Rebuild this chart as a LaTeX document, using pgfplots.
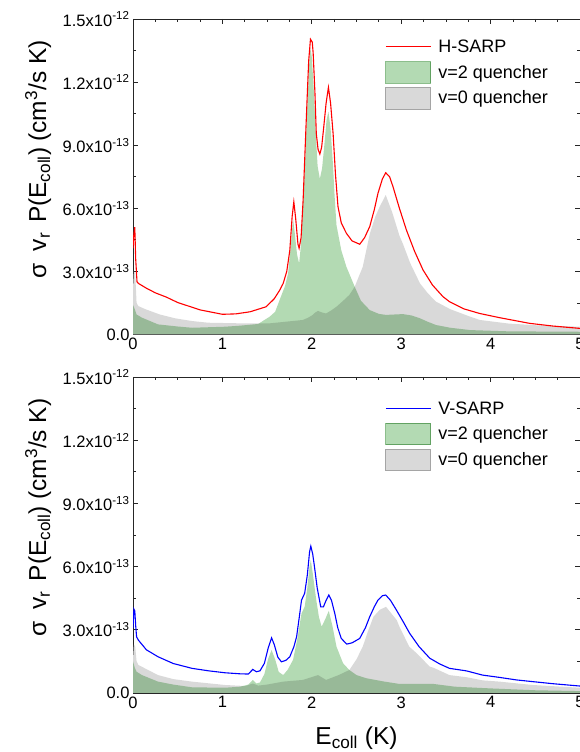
\documentclass[border=0pt]{standalone}
\usepackage{fontspec}
\setmainfont{Liberation Sans}
\usepackage{pgfplots}
\pgfplotsset{compat=1.18}

\definecolor{vtwo}{RGB}{179,218,179}
\definecolor{vtwoedge}{RGB}{140,190,140}
\definecolor{vzero}{RGB}{217,217,217}
\definecolor{vzeroedge}{RGB}{165,165,165}

\pgfplotsset{
  panel/.style={
    scale only axis, width=447pt,
    xmin=0, xmax=5, ymin=0, ymax=15,
    xtick={0,1,2,3,4,5}, minor x tick num=3,
    ytick={0,3,6,9,12,15}, minor y tick num=1,
    yticklabels={0.0, 3.0x10\textsuperscript{-13}, 6.0x10\textsuperscript{-13}, 9.0x10\textsuperscript{-13}, 1.2x10\textsuperscript{-12}, 1.5x10\textsuperscript{-12}},
    tick align=inside, major tick length=5pt, minor tick length=3pt,
    axis line style={line width=0.9pt, black!85},
    every tick/.style={black!85, line width=0.8pt},
    tick label style={font=\fontsize{16.5}{18}\selectfont},
    /pgf/number format/assume math mode=true,
    ylabel={σ\hspace{0.5em}v\textsubscript{r}\hspace{0.4em}P(E\textsubscript{coll})\hspace{0.25em}(cm\textsuperscript{3}/s K)},
    ylabel style={font=\fontsize{24.5}{26}\selectfont, at={(axis description cs:-0.212,0.555)}, anchor=center},
    legend cell align=left,
    reverse legend,
    legend style={draw=none, fill=none, anchor=north west,
      font=\fontsize{18}{20}\selectfont, row sep=3.4pt, inner sep=0pt,
      nodes={inner sep=0pt},
      /tikz/every odd column/.append style={column sep=7pt}},
  },
  vzerostyle/.style={fill=vzero, draw=none,
    legend image code/.code={\draw[fill=vzero, draw=vzeroedge, line width=0.8pt] (0pt,-10.8pt) rectangle (45pt,10.8pt);}},
  vtwostyle/.style={fill=vtwo, draw=none, blend mode=multiply,
    legend image code/.code={\draw[fill=vtwo, draw=vtwoedge, line width=0.8pt] (0pt,-10.8pt) rectangle (45pt,10.8pt);}},
  linestyle/.style={#1, line width=1.1pt,
    legend image code/.code={\draw[#1, line width=1.1pt] (0pt,0pt) -- (45pt,0pt); \path[draw=none, fill=none] (0pt,-10.8pt) rectangle (45pt,10.8pt);}},
}

\begin{document}
\begin{tikzpicture}[x=1pt,y=1pt]
% ---------------- top panel ----------------
\begin{axis}[panel, at={(133pt,417.5pt)}, anchor=south west, height=315.5pt,
  legend style={at={(axis description cs:0.5638,0.9464)}}]
\addplot[vzerostyle] coordinates {
(0,2.2) (0.01,3.0) (0.025,2.9) (0.04,1.5) (0.06,1.35) (0.134,1.21) (0.3,0.95)
(0.47,0.77) (0.66,0.64) (0.84,0.56) (1.21,0.53) (1.53,0.53) (1.9,0.69) (1.96,0.8)
(2.01,0.93) (2.04,1.05) (2.07,1.12) (2.11,1.05) (2.16,1.0) (2.22,1.15) (2.276,1.32)
(2.35,1.6) (2.42,1.88) (2.48,2.27) (2.57,3.22) (2.65,4.81) (2.71,5.6) (2.76,6.08)
(2.827,6.63) (2.9,5.8) (2.98,4.7) (3.02,4.3) (3.1,3.4) (3.21,2.43) (3.3,1.95)
(3.39,1.56) (3.55,1.2) (3.77,0.85) (3.88,0.69) (4.2,0.52) (4.5,0.44) (5.0,0.37)
} \closedcycle;
\addlegendentry{v=0 quencher}
\addplot[vtwostyle] coordinates {
(0,1.4) (0.02,1.2) (0.04,0.95) (0.1,0.8) (0.28,0.48) (0.5,0.38) (0.66,0.32)
(1.03,0.37) (1.2,0.42) (1.4,0.5) (1.47,0.69) (1.53,0.85) (1.59,1.08) (1.64,1.64)
(1.7,2.3) (1.735,2.91) (1.765,4.2) (1.79,5.5) (1.81,4.8) (1.835,3.8) (1.858,3.38)
(1.88,4.3) (1.90,6.0) (1.925,8.2) (1.95,10.8) (1.97,12.8) (1.985,13.6) (2.0,13.2)
(2.02,11.8) (2.045,9.5) (2.065,8.0) (2.09,7.4) (2.115,7.9) (2.14,9.0) (2.165,10.2)
(2.186,10.6) (2.21,9.8) (2.235,8.2) (2.255,6.6) (2.276,5.2) (2.33,4.0) (2.387,3.22)
(2.48,2.27) (2.55,1.6) (2.648,1.16) (2.75,0.98) (2.83,0.93) (2.92,0.95) (3.02,0.97)
(3.12,0.9) (3.21,0.77) (3.3,0.6) (3.39,0.45) (3.55,0.32) (3.77,0.21) (4.2,0.15) (5.0,0.13)
} \closedcycle;
\addlegendentry{v=2 quencher}
\addplot[linestyle=red] coordinates {
(0,4.1) (0.01,4.8) (0.02,5.1) (0.03,3.6) (0.045,2.5) (0.06,2.43) (0.15,2.2)
(0.25,1.98) (0.377,1.77) (0.5,1.52) (0.75,1.17) (1.0,0.96) (1.15,0.98) (1.31,1.08)
(1.49,1.32) (1.58,1.7) (1.64,2.1) (1.68,2.43) (1.72,3.0) (1.754,4.0) (1.78,5.6)
(1.799,6.31) (1.82,5.5) (1.845,4.3) (1.858,4.1) (1.88,4.6) (1.903,6.4) (1.925,8.8)
(1.947,11.15) (1.965,13.0) (1.985,14.04) (2.005,13.9) (2.015,13.4) (2.035,11.5)
(2.05,9.57) (2.07,8.8) (2.09,8.58) (2.11,8.9) (2.134,9.88) (2.16,11.0) (2.186,11.75)
(2.21,11.0) (2.238,9.57) (2.265,7.6) (2.293,6.08) (2.33,5.3) (2.387,4.81) (2.45,4.45)
(2.536,4.29) (2.59,4.6) (2.648,5.13) (2.70,5.95) (2.74,6.71) (2.79,7.4) (2.827,7.69)
(2.87,7.5) (2.908,7.03) (2.98,6.0) (3.058,4.97) (3.15,3.95) (3.244,3.07) (3.35,2.35)
(3.467,1.8) (3.54,1.56) (3.7,1.22) (3.877,1.0) (4.1,0.8) (4.436,0.53) (4.7,0.4) (5.0,0.29)
};
\addlegendentry{H-SARP}
\end{axis}
% ---------------- bottom panel ----------------
\begin{axis}[panel, at={(133pt,59pt)}, anchor=south west, height=316pt,
  legend style={at={(axis description cs:0.5638,0.9345)}},
  xlabel={E\textsubscript{coll} (K)},
  xlabel style={font=\fontsize{24.5}{26}\selectfont, at={(axis description cs:0.5,0)}, anchor=base, yshift=-52pt}]
\addplot[vzerostyle] coordinates {
(0,1.6) (0.01,2.3) (0.025,2.2) (0.04,1.5) (0.06,1.33) (0.28,0.85) (0.45,0.66)
(0.66,0.54) (1.03,0.38) (1.26,0.33) (1.34,0.45) (1.4,0.35) (1.5,0.4) (1.68,0.54)
(1.9,0.62) (2.07,0.85) (2.16,0.62) (2.3,0.85) (2.42,1.09) (2.5,1.6) (2.57,2.2)
(2.63,2.95) (2.69,3.62) (2.76,3.95) (2.83,4.09) (2.95,3.46) (2.98,3.15) (3.09,2.2)
(3.17,1.9) (3.32,1.25) (3.36,1.2) (3.54,0.85) (3.73,0.75) (3.91,0.6) (4.1,0.54)
(4.47,0.38) (5.0,0.25)
} \closedcycle;
\addlegendentry{v=0 quencher}
\addplot[vtwostyle] coordinates {
(0,1.5) (0.02,1.2) (0.04,1.01) (0.1,0.85) (0.28,0.54) (0.45,0.4) (0.66,0.27)
(1.03,0.25) (1.2,0.3) (1.29,0.4) (1.34,0.62) (1.38,0.45) (1.42,0.5) (1.47,0.9)
(1.51,1.6) (1.55,2.04) (1.59,1.6) (1.63,1.0) (1.68,0.85) (1.73,1.1) (1.79,1.57)
(1.84,2.6) (1.885,3.78) (1.92,4.09) (1.95,5.0) (1.975,6.0) (1.989,6.31) (2.01,5.7)
(2.05,4.41) (2.08,3.6) (2.11,3.15) (2.15,3.5) (2.19,3.9) (2.23,3.2) (2.276,2.2)
(2.35,1.41) (2.42,1.09) (2.5,0.85) (2.61,0.7) (2.8,0.55) (2.98,0.43) (3.2,0.43)
(3.36,0.43) (3.6,0.3) (3.99,0.22) (4.5,0.13) (5.0,0.09)
} \closedcycle;
\addlegendentry{v=2 quencher}
\addplot[linestyle=blue] coordinates {
(0,3.08) (0.01,3.98) (0.02,3.9) (0.03,3.2) (0.04,2.67) (0.06,2.51) (0.15,2.05)
(0.28,1.72) (0.45,1.4) (0.66,1.17) (0.85,1.05) (1.03,0.96) (1.2,0.91) (1.29,0.9)
(1.34,1.12) (1.38,1.01) (1.42,1.05) (1.47,1.41) (1.51,2.1) (1.55,2.62) (1.58,2.3)
(1.62,1.7) (1.66,1.48) (1.71,1.55) (1.754,1.72) (1.8,2.2) (1.83,2.67) (1.86,3.6)
(1.885,4.41) (1.92,4.73) (1.95,5.6) (1.975,6.7) (1.989,6.97) (2.01,6.6) (2.03,5.99)
(2.06,5.0) (2.10,4.09) (2.13,4.09) (2.16,4.4) (2.19,4.65) (2.22,4.4) (2.257,3.78)
(2.29,3.1) (2.33,2.59) (2.39,2.32) (2.45,2.38) (2.536,2.59) (2.6,3.1) (2.648,3.62)
(2.7,4.1) (2.74,4.41) (2.79,4.62) (2.827,4.65) (2.88,4.4) (2.946,3.94) (3.02,3.4)
(3.095,2.83) (3.2,2.2) (3.32,1.65) (3.43,1.38) (3.54,1.17) (3.73,1.05) (3.91,0.85)
(4.1,0.74) (4.29,0.62) (4.47,0.54) (4.7,0.44) (5.0,0.33)
};
\addlegendentry{V-SARP}
\end{axis}
\pgfresetboundingbox
\path[use as bounding box] (0pt,0pt) rectangle (579pt,752pt);
\end{tikzpicture}
\end{document}
